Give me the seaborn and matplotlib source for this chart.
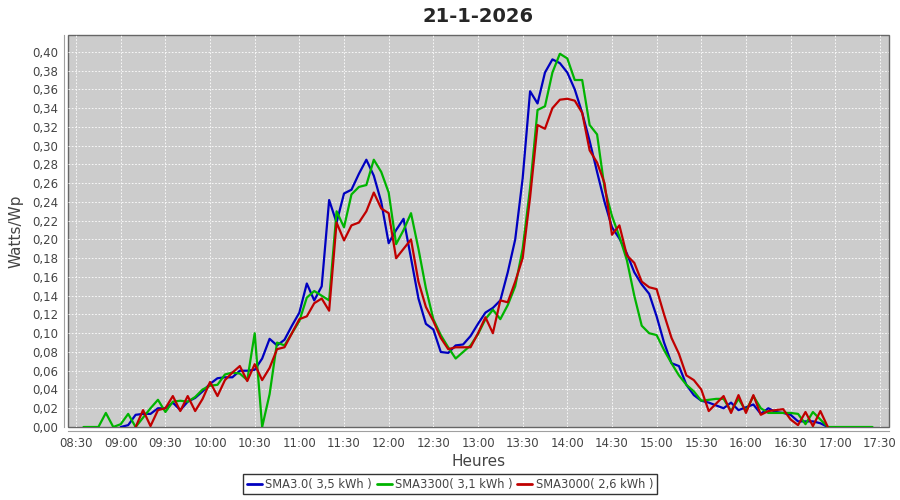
import pandas as pd
import matplotlib
matplotlib.use('Agg')
import matplotlib.pyplot as plt
import matplotlib.dates as mdates
from matplotlib.ticker import FuncFormatter, MultipleLocator
import seaborn as sns

# 5-minute samples (Watts/Wp)
blue_start = '2026-01-21 09:00'
blue_vals = [0.0, 0.002, 0.013, 0.014, 0.014, 0.02, 0.02, 0.026, 0.018, 0.027, 0.031, 0.038,
             0.046, 0.052, 0.053, 0.053, 0.06, 0.06, 0.061, 0.073, 0.094, 0.087, 0.093, 0.108,
             0.122, 0.153, 0.135, 0.15, 0.242, 0.218, 0.249, 0.253, 0.27, 0.285, 0.268, 0.24,
             0.196, 0.21, 0.222, 0.18, 0.137, 0.11, 0.104, 0.08, 0.079, 0.087, 0.088, 0.097,
             0.11, 0.122, 0.127, 0.135, 0.165, 0.2, 0.265, 0.358, 0.345, 0.378, 0.392, 0.388,
             0.378, 0.36, 0.335, 0.305, 0.272, 0.24, 0.213, 0.201, 0.185, 0.165, 0.152, 0.142,
             0.118, 0.09, 0.068, 0.065, 0.045, 0.034, 0.028, 0.026, 0.023, 0.02, 0.026, 0.018,
             0.021, 0.024, 0.014, 0.02, 0.016, 0.015, 0.013, 0.006, 0.006, 0.006, 0.004, 0.0]

green_start = '2026-01-21 08:35'
green_vals = [0.0, 0.0, 0.0, 0.015, 0.0,
              0.003, 0.014, 0.0, 0.01, 0.02, 0.029, 0.016, 0.027, 0.028, 0.027, 0.032, 0.04,
              0.044, 0.045, 0.056, 0.058, 0.057, 0.05, 0.10, 0.0, 0.035, 0.09, 0.087, 0.10,
              0.113, 0.138, 0.145, 0.14, 0.135, 0.23, 0.213, 0.248, 0.256, 0.258, 0.285, 0.272,
              0.25, 0.195, 0.21, 0.228, 0.19, 0.148, 0.115, 0.098, 0.085, 0.073, 0.08, 0.087,
              0.099, 0.115, 0.125, 0.115, 0.13, 0.15, 0.19, 0.255, 0.338, 0.342, 0.378, 0.398,
              0.393, 0.37, 0.37, 0.322, 0.312, 0.255, 0.225, 0.203, 0.178, 0.14, 0.108, 0.10,
              0.098, 0.082, 0.068, 0.055, 0.045, 0.038, 0.028, 0.029, 0.03, 0.03, 0.017, 0.03,
              0.017, 0.033, 0.02, 0.015, 0.015, 0.015, 0.015, 0.014, 0.003, 0.016, 0.008, 0.0,
              0.0, 0.0, 0.0, 0.0, 0.0, 0.0]

red_start = '2026-01-21 09:10'
red_vals = [0.0, 0.018, 0.001, 0.018, 0.02, 0.033, 0.017, 0.033, 0.017, 0.03,
            0.048, 0.033, 0.05, 0.058, 0.065, 0.049, 0.067, 0.05, 0.063, 0.083, 0.085, 0.10,
            0.115, 0.118, 0.132, 0.137, 0.124, 0.218, 0.199, 0.215, 0.218, 0.23, 0.25, 0.233,
            0.228, 0.18, 0.19, 0.20, 0.155, 0.128, 0.113, 0.095, 0.083, 0.085, 0.085, 0.085,
            0.1, 0.117, 0.1, 0.135, 0.133, 0.155, 0.18, 0.245, 0.322, 0.318, 0.34, 0.349,
            0.35, 0.348, 0.335, 0.295, 0.282, 0.26, 0.205, 0.215, 0.183, 0.175, 0.155, 0.149,
            0.147, 0.12, 0.095, 0.078, 0.055, 0.05, 0.04, 0.017, 0.025, 0.033, 0.015, 0.034,
            0.015, 0.034, 0.013, 0.017, 0.018, 0.019, 0.008, 0.002, 0.016, 0.001, 0.017, 0.0]

names = ['SMA3.0( 3,5 kWh )', 'SMA3300( 3,1 kWh )', 'SMA3000( 2,6 kWh )']
colors = ['#0000c0', '#00b400', '#c00000']


def series(start, vals, name):
    t = pd.date_range(start, periods=len(vals), freq='5min')
    return pd.DataFrame({'Heure': t, 'Watts/Wp': vals, 'Onduleur': name})


df = pd.concat([series(blue_start, blue_vals, names[0]),
                series(green_start, green_vals, names[1]),
                series(red_start, red_vals, names[2])], ignore_index=True)

sns.set_style('white')
plt.rcParams['font.family'] = ['DejaVu Sans']

fig = plt.figure(figsize=(9, 5), dpi=100)
ax = fig.add_axes([0.0756, 0.146, 0.912, 0.784])
ax.set_facecolor('#cccccc')

sns.lineplot(data=df, x='Heure', y='Watts/Wp', hue='Onduleur', palette=colors,
             linewidth=1.6, ax=ax, legend=False)

ax.set_xlim(pd.Timestamp('2026-01-21 08:24:36'), pd.Timestamp('2026-01-21 17:36'))
ax.set_ylim(0, 0.418)
ax.xaxis.set_major_locator(mdates.MinuteLocator(byminute=[0, 30]))
ax.xaxis.set_major_formatter(mdates.DateFormatter('%H:%M'))
ax.yaxis.set_major_locator(MultipleLocator(0.02))
ax.yaxis.set_major_formatter(FuncFormatter(lambda v, p: f'{v:.2f}'.replace('.', ',')))

ax.grid(True, color='white', linestyle=(0, (2, 2)), linewidth=0.6)
ax.set_axisbelow(True)

# plot frame plus offset axis lines, like the original
ax.patch.set_edgecolor('#666666')
ax.patch.set_linewidth(1.0)
for s in ['top', 'right']:
    ax.spines[s].set_visible(False)
for s in ['left', 'bottom']:
    ax.spines[s].set_position(('outward', 3))
    ax.spines[s].set_color('#a0a0a0')
ax.tick_params(axis='both', direction='out', length=2, pad=2, color='#a0a0a0',
               labelsize=8.5, labelcolor='#444444')

ax.set_xlabel('Heures', fontsize=11, color='#444444', labelpad=3)
ax.set_ylabel('Watts/Wp', fontsize=11, color='#444444', labelpad=6)
ax.set_title('21-1-2026', fontsize=14, fontweight='bold', pad=9)

handles = [plt.Line2D([], [], color=c, linewidth=2) for c in colors]
leg = fig.legend(handles, names, loc='lower center', bbox_to_anchor=(0.5, 0.0),
                 ncol=3, fontsize=8.3, frameon=True, fancybox=False, handlelength=1.3,
                 handletextpad=0.3, columnspacing=0.4, borderpad=0.3)
leg.get_frame().set_edgecolor('black')
leg.get_frame().set_linewidth(1)
for t in leg.get_texts():
    t.set_color('#444444')

fig.savefig('out.png', dpi=100)
